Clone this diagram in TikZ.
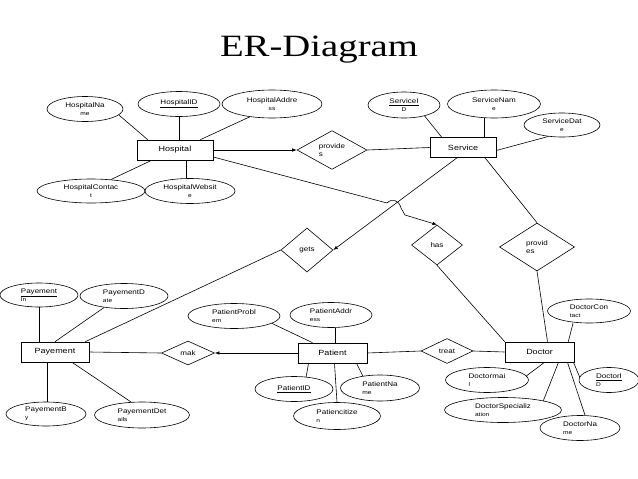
\documentclass[tikz,border=0pt]{standalone}
\usepackage{fontspec}
\usetikzlibrary{shapes.geometric,arrows.meta}
\newfontfamily\attrfam[FakeStretch=1.2]{Liberation Sans}
\newfontfamily\titlefam[FakeStretch=1.25]{Liberation Serif}
\newcommand\secl[1]{{\fontsize{5.5}{5.5}\selectfont #1}}
\tikzset{
  ent/.style={draw, rectangle, minimum height=20pt, inner sep=0pt, line width=0.6pt,
              font=\attrfam\fontsize{7.5}{8}\selectfont},
  attr/.style={draw, ellipse, inner sep=0pt, minimum height=25pt, align=center, line width=0.6pt,
              font=\attrfam\fontsize{6.7}{7.5}\selectfont},
  attrl/.style={attr, align=left},
  rel/.style={draw, diamond, inner sep=0pt, align=left, line width=0.6pt,
              font=\attrfam\fontsize{6.7}{7.5}\selectfont},
  ln/.style={line width=0.6pt},
  arr/.style={ln, -{Latex[length=4.5pt,width=3.5pt]}}
}
\begin{document}
\begin{tikzpicture}[x=1pt,y=-1pt]
\fill[white] (0,0) rectangle (638,479);
\useasboundingbox (0,0) rectangle (638,479);

\node[font=\titlefam\fontsize{31}{31}\selectfont] (title) at (319,50) {ER-Diagram};

% entities
\node[ent, minimum width=76pt] (hosp) at (175,150) {Hospital};
\node[ent, minimum width=66pt] (serv) at (463,147.5) {Service};
\node[ent, minimum width=68pt] (pay) at (55,352) {Payement};
\node[ent, minimum width=69pt] (pat) at (332.5,353) {Patient};
\node[ent, minimum width=69pt] (doc) at (539.5,352) {Doctor};

% relationships
\node[rel, minimum width=70pt, minimum height=35pt] (prov1) at (332,150) {provide\\s};
\node[rel, minimum width=52pt, minimum height=44pt] (gets) at (307,250) {gets};
\node[rel, minimum width=51pt, minimum height=40pt] (has) at (437,245) {has};
\node[rel, minimum width=75pt, minimum height=48pt] (prov2) at (537,247) {provid\\es};
\node[rel, minimum width=53pt, minimum height=24pt] (mak) at (188,353) {mak};
\node[rel, minimum width=52pt, minimum height=25pt] (treat) at (447,351) {treat};

% hospital attributes
\node[attr, minimum width=76pt] (hname) at (85,109) {HospitalNa\\\secl{me}};
\node[attr, minimum width=82pt] (hid) at (179,104) {\underline{HospitalID}};
\node[attr, minimum width=100pt, minimum height=28pt] (haddr) at (272,104) {HospitalAddre\\\secl{ss}};
\node[attr, minimum width=108pt, minimum height=24pt] (hcont) at (91,191) {HospitalContac\\\secl{t}};
\node[attr, minimum width=90pt] (hweb) at (190,191) {HospitalWebsit\\\secl{e}};

% service attributes
\node[attr, minimum width=72pt, minimum height=26pt] (sid) at (404,105) {\underline{ServiceI}\\\secl{D}};
\node[attr, minimum width=93pt, minimum height=28pt] (sname) at (494,104) {ServiceNam\\\secl{e}};
\node[attr, minimum width=76pt, minimum height=24pt] (sdate) at (562,125) {ServiceDat\\\secl{e}};

% payement attributes
\node[attrl, minimum width=78pt, minimum height=24pt] (payin) at (39,295) {\underline{Payement}\\\secl{In}};
\node[attrl, minimum width=88pt] (paydate) at (124,296) {PayementD\\\secl{ate}};
\node[attrl, minimum width=80pt, minimum height=24pt] (payb) at (46,414) {PayementB\\\secl{y}};
\node[attrl, minimum width=95pt, minimum height=26pt] (paydet) at (142,415) {PayementDet\\\secl{ails}};

% patient attributes
\node[attrl, minimum width=92pt] (pprob) at (234,316) {PatientProbl\\\secl{em}};
\node[attrl, minimum width=82pt] (paddr) at (331,315) {PatientAddr\\\secl{ess}};
\node[attr, minimum width=78pt] (pid) at (294,389) {\underline{PatientID}};
\node[attrl, minimum width=79pt, minimum height=26pt] (pname) at (380,388) {PatientNa\\\secl{me}};
\node[attrl, minimum width=87pt, minimum height=27pt] (pcit) at (337,416) {Patiencitize\\\secl{n}};

% doctor attributes
\node[attrl, minimum width=83pt, minimum height=24pt] (dcon) at (589,311) {DoctorCon\\\secl{tact}};
\node[attrl, minimum width=83pt] (dmail) at (487,380) {Doctormai\\\secl{l}};
\node[attrl, minimum width=117pt] (dspec) at (503,410) {DoctorSpecializ\\\secl{ation}};
\node[attrl, minimum width=80pt] (dname) at (580,428) {DoctorNa\\\secl{me}};
\node[attrl, minimum width=60pt] (did) at (609,380) {\underline{DoctorI}\\\secl{D}};

% hospital connectors
\draw[ln] (hname.-10) -- ([xshift=11pt]hosp.north west);
\draw[ln] (hid.south) -- (hid.south |- hosp.north);
\draw[ln] (haddr.-150) -- ([xshift=-13pt]hosp.north east);
\draw[ln] ([xshift=15pt]hosp.south west) -- (hcont.30);
\draw[ln] ([xshift=11pt]hosp.south) -- ([xshift=11pt]hosp.south |- hweb.north);
\draw[arr] (hosp.east) -- (prov1.west);
\draw[ln] (prov1.east) -- (serv.west);

% service connectors
\draw[ln] (sid.-28) -- ([xshift=12pt]serv.north west);
\draw[ln] ([xshift=-10pt]sname.south) -- ([xshift=-10pt]sname.south |- serv.north);
\draw[ln] ([yshift=-3pt]serv.east) -- (sdate.-140);
\draw[arr] ([xshift=-6pt]serv.south) -- (gets.east);
\draw[ln] ([xshift=22pt]serv.south) -- (prov2.north);

% hospital -> has with a hop
\coordinate (hopA) at (387,203);
\coordinate (hopB) at (401,208);
\coordinate (hopC) at (405,215);
\draw[arr] ([yshift=-7pt]hosp.east) -- (hopA) .. controls (392,198) and (399,200) .. (hopB) -- (hopC) -- (has.north);

% payement connectors
\draw[ln] (gets.west) -- ([xshift=-4pt]pay.north east);
\draw[ln] (payin.south) -- (payin.south |- pay.north);
\draw[ln] (paydate.-150) -- (pay.north);
\draw[ln] ([xshift=-8pt]pay.south) -- ([xshift=-8pt]pay.south |- payb.north);
\draw[ln] ([xshift=17pt]pay.south) -- (paydet.130);
\draw[ln] (pay.east) -- (mak.west);
\draw[arr] (pat.west) -- (mak.east);

% patient connectors
\draw[ln] (pprob.-11) -- ([xshift=-20pt]pat.north);
\draw[ln] ([xshift=4pt]paddr.south) -- ([xshift=4pt]paddr.south |- pat.north);
\draw[ln] ([xshift=-24pt]pat.south) -- (pid.45);
\draw[ln] ([xshift=2pt]pat.south) -- (pcit.north);
\draw[ln] ([xshift=24pt]pat.south) -- (pname.145);
\draw[ln] (pat.east) -- (treat.west);
\draw[ln] (treat.east) -- (doc.west);

% doctor connectors
\draw[ln] (has.south) -- (doc.north west);
\draw[ln] (prov2.south) -- ([xshift=8pt]doc.north);
\draw[ln] ([xshift=-16pt]dcon.south) -- ([xshift=-6pt]doc.north east);
\draw[ln] ([xshift=5pt]doc.south) -- (dmail.6);
\draw[ln] ([xshift=19pt]doc.south) -- (dspec.13);
\draw[ln] ([xshift=28pt]doc.south) -- ([xshift=5pt]dname.north);
\draw[ln] ([xshift=34pt]doc.south) -- (did.174);
\end{tikzpicture}
\end{document}
